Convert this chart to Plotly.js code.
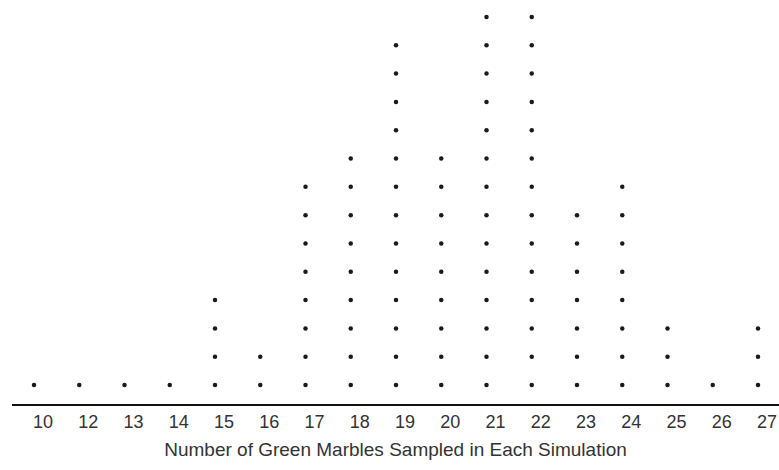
<!DOCTYPE html>
<html>
<head>
<meta charset="utf-8">
<script src="https://cdn.plot.ly/plotly-3.0.1.min.js"></script>
<style>html,body{margin:0;padding:0;background:#fff;}#chart{width:779px;height:470px;}</style>
</head>
<body>
<div id="chart"></div>
<script>
// Number of green marbles sampled (categories) and how many simulations gave each
const categories = ["10","12","13","14","15","16","17","18","19","20","21","22","23","24","25","26","27"];
const counts     = [ 1,   1,   1,   1,   4,   2,   8,   9,   13,  9,   14,  14,  7,   8,   3,   1,   3 ];
const xTitle = "Number of Green Marbles Sampled in Each Simulation";

const xs = [], ys = [];
categories.forEach((c, i) => {
  for (let k = 1; k <= counts[i]; k++) { xs.push(c); ys.push(k); }
});

const FONT = "'Liberation Sans Narrow', 'Arial Narrow', 'Liberation Sans', Arial, sans-serif";

const trace = {
  type: "scatter",
  mode: "markers",
  x: xs,
  y: ys,
  marker: {color: "#1a1a1a", size: 4.5, symbol: "circle"},
  hoverinfo: "x+y"
};

const layout = {
  width: 779,
  height: 470,
  margin: {l: 12, r: 0, t: 0, b: 66},
  paper_bgcolor: "#fff",
  plot_bgcolor: "#fff",
  showlegend: false,
  font: {family: FONT, color: "#333", size: 18},
  xaxis: {
    type: "category",
    categoryorder: "array",
    categoryarray: categories,
    range: [-0.486, 16.464],
    showgrid: false,
    zeroline: false,
    showline: true,
    linecolor: "#111",
    linewidth: 2,
    ticks: "",
    ticklabelshift: 9,
    tickfont: {family: FONT, size: 18, color: "#333"},
    title: {text: xTitle, font: {family: FONT, size: 19, color: "#333"}, standoff: 12},
    fixedrange: true
  },
  yaxis: {
    range: [0.329, 14.6],
    visible: false,
    showgrid: false,
    zeroline: false,
    fixedrange: true
  }
};

Plotly.newPlot("chart", [trace], layout, {displayModeBar: false, staticPlot: true});
</script>
</body>
</html>
